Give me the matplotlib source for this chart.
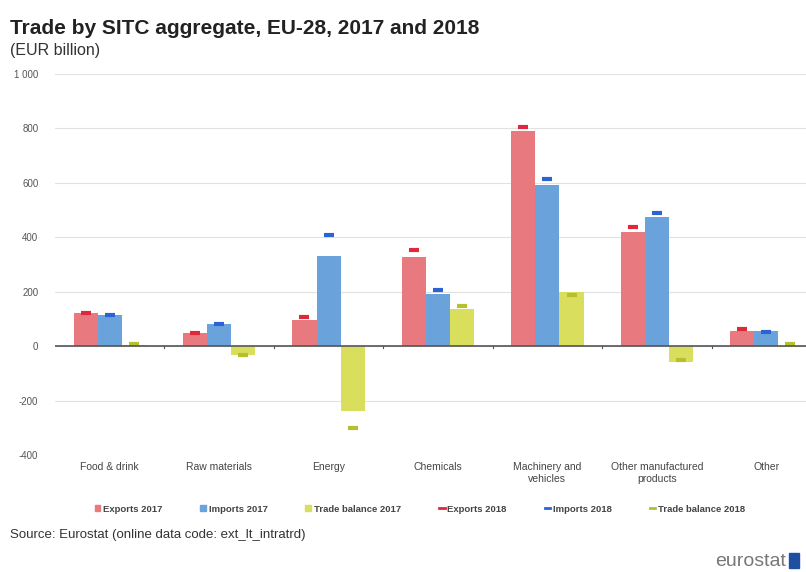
import numpy as np
import matplotlib.pyplot as plt
from matplotlib.lines import Line2D
from matplotlib.patches import Patch

plt.rcParams['font.family'] = ['Liberation Sans', 'DejaVu Sans']

categories = ['Food & drink', 'Raw materials', 'Energy', 'Chemicals',
              'Machinery and\nvehicles', 'Other manufactured\nproducts', 'Other']

# EUR billion
exports_2017 = [121, 48, 95, 329, 790, 418, 55]
imports_2017 = [115, 80, 332, 193, 591, 475, 57]
balance_2017 = [6, -32, -237, 136, 199, -57, -2]

exports_2018 = [122, 50, 107, 352, 805, 437, 62]
imports_2018 = [114, 82, 407, 205, 616, 489, 52]
balance_2018 = [8, -32, -300, 147, 189, -52, 8]

yticks = [-400, -200, 0, 200, 400, 600, 800, 1000]

bar_colors = ['#e8797f', '#6aa3dc', '#d9df5c']
mark_colors = ['#e0283c', '#2c62d4', '#b5c02c']

W, H = 806, 572
fig = plt.figure(figsize=(W / 100, H / 100), dpi=100)
ax = fig.add_axes([55 / W, 1 - 455 / H, 766 / W, 381 / H])

x = np.arange(len(categories))
bw = 0.22
series_2017 = [exports_2017, imports_2017, balance_2017]
series_2018 = [exports_2018, imports_2018, balance_2018]
for i, (vals, col) in enumerate(zip(series_2017, bar_colors)):
    ax.bar(x + (i - 1) * bw, vals, bw, color=col, zorder=2)
for i, (vals, col) in enumerate(zip(series_2018, mark_colors)):
    ax.scatter(x + (i - 1) * bw, vals, marker='_', s=60, linewidths=3,
               color=col, zorder=3)

ax.set_xlim(-0.5, len(categories) - 0.5)
ax.set_ylim(-400, 1000)
ax.set_yticks(yticks)
ax.set_yticklabels([f'{v:,}'.replace(',', ' ') for v in yticks],
                   fontsize=7, color='#555555')
ax.yaxis.grid(True, color='#e2e2e2', linewidth=0.8, zorder=0)
ax.tick_params(axis='y', length=0, pad=12)
ax.set_xticks([])
for s in ax.spines.values():
    s.set_visible(False)
ax.axhline(0, color='#555555', linewidth=1.2, zorder=4)
for b in np.arange(0.5, len(categories) - 0.5):
    ax.plot([b, b], [0, -8], color='#555555', linewidth=0.8, zorder=4)

for xi, lab in zip(x, categories):
    ax.text(xi, -425, lab, ha='center', va='top', fontsize=7.5,
            color='#444444', linespacing=1.3)

fig.text(10 / W, 1 - 28 / H, 'Trade by SITC aggregate, EU-28, 2017 and 2018',
         fontsize=15, fontweight='bold', color='#222222', va='center')
fig.text(10 / W, 1 - 50 / H, '(EUR billion)', fontsize=11.5,
         color='#333333', va='center')

handles = [Patch(color=c) for c in bar_colors] + \
          [Line2D([], [], color=c, linewidth=2) for c in mark_colors]
labels = ['Exports 2017', 'Imports 2017', 'Trade balance 2017',
          'Exports 2018', 'Imports 2018', 'Trade balance 2018']
leg = fig.legend(handles, labels, loc='center', ncol=6,
                 bbox_to_anchor=(420 / W, 1 - 509 / H), frameon=False,
                 prop={'size': 6.8, 'weight': 'bold'}, handlelength=0.6,
                 handleheight=0.6, handletextpad=0.3, columnspacing=4.0)
for t in leg.get_texts():
    t.set_color('#444444')

fig.text(10 / W, 1 - 535 / H,
         'Source: Eurostat (online data code: ext_lt_intratrd)',
         fontsize=9.5, color='#333333', va='center')
fig.text(786 / W, 1 - 561 / H, 'eurostat', fontsize=14, color='#777777',
         ha='right', va='center')
fig.patches.append(plt.Rectangle((789 / W, 1 - 568 / H), 10 / W, 15 / H,
                                 transform=fig.transFigure,
                                 color='#1f4fa0'))

fig.savefig('out.png', dpi=100)
